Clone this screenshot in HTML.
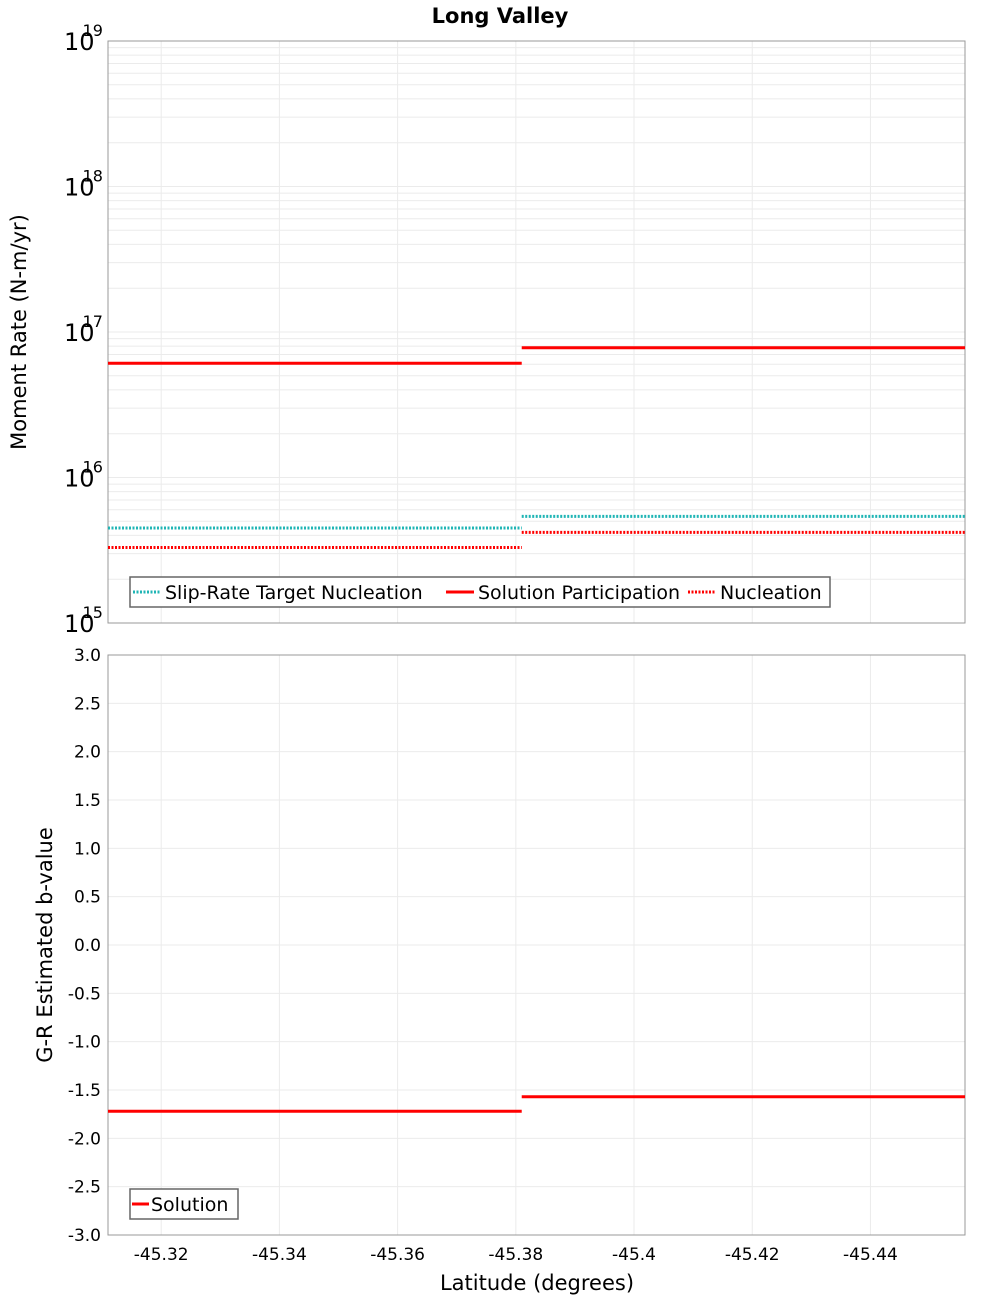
<!DOCTYPE html>
<html><head><meta charset="utf-8"><style>
body{margin:0;background:#fff}
svg{display:block;font-family:"DejaVu Sans","Liberation Sans",sans-serif}
</style></head><body>
<svg id="chart" width="1000" height="1300" xmlns="http://www.w3.org/2000/svg">
<text x="500" y="23" text-anchor="middle" font-size="21" font-weight="bold">Long Valley</text>
<g id="topPanel"></g><g id="botPanel"></g>
</svg>
<script>
const segBounds = [-45.311, -45.381, -45.456];
const solutionParticipation = [6.1e16, 7.8e16];
const slipRateTargetNucleation = [4.5e15, 5.4e15];
const nucleation = [3.3e15, 4.2e15];
const bValues = [-1.72, -1.57];
const xTicks = [-45.32, -45.34, -45.36, -45.38, -45.4, -45.42, -45.44];
const xTickLabels = ["-45.32","-45.34","-45.36","-45.38","-45.4","-45.42","-45.44"];
const yDecades = [15, 16, 17, 18, 19];
const bTicks = [3.0,2.5,2.0,1.5,1.0,0.5,0.0,-0.5,-1.0,-1.5,-2.0,-2.5,-3.0];

const NS="http://www.w3.org/2000/svg";
const L=108,R=965;
const xMin=-45.311,xMax=-45.456;
const X=v=>L+(v-xMin)/(xMax-xMin)*(R-L);
const T1=41,B1=623,T2=655,B2=1235;
const Y1=v=>B1-(Math.log10(v)-15)/4*(B1-T1);
const Y2=v=>B2-(v+3)/6*(B2-T2);
function mk(parent,tag,attrs,text){const e=document.createElementNS(NS,tag);for(const k in attrs)e.setAttribute(k,attrs[k]);if(text!==undefined)e.textContent=text;parent.appendChild(e);return e;}
const topG=document.getElementById('topPanel'),botG=document.getElementById('botPanel');

for(let d=15;d<19;d++)for(let m=1;m<10;m++){const y=Y1(m*Math.pow(10,d));const g=mk(topG,'line',{x1:L,x2:R,y1:y,y2:y,stroke:'#ebebeb','stroke-width':1});

}
xTicks.forEach(t=>{[[T1,B1,topG],[T2,B2,botG]].forEach(([a,b,p])=>{const g=mk(p,'line',{x1:X(t),x2:X(t),y1:a,y2:b,stroke:'#ebebeb','stroke-width':1});

});});
bTicks.forEach(t=>{const g=mk(botG,'line',{x1:L,x2:R,y1:Y2(t),y2:Y2(t),stroke:'#ebebeb','stroke-width':1});

});

let f=mk(topG,'rect',{x:L,y:T1,width:R-L,height:B1-T1,fill:'none',stroke:'#999','stroke-width':1});


f=mk(botG,'rect',{x:L,y:T2,width:R-L,height:B2-T2,fill:'none',stroke:'#999','stroke-width':1});



yDecades.forEach(d=>{const y=Y1(Math.pow(10,d));const t=mk(topG,'text',{x:64,y:y+9,'font-size':24,'text-anchor':'start'});


mk(t,'tspan',{},'10');mk(t,'tspan',{dx:-12,dy:-14,'font-size':16},String(d));});
bTicks.forEach(v=>{const t=mk(botG,'text',{x:101,y:Y2(v)+6,'font-size':17,'text-anchor':'end'},v.toFixed(1));

});
xTicks.forEach((v,i)=>{const t=mk(botG,'text',{x:X(v),y:1260,'font-size':17,'text-anchor':'middle'},xTickLabels[i]);

});

let t=mk(topG,'text',{transform:'translate(26,332) rotate(-90)','font-size':21,'text-anchor':'middle'},'Moment Rate (N-m/yr)');


t=mk(botG,'text',{transform:'translate(52,945) rotate(-90)','font-size':21,'text-anchor':'middle'},'G-R Estimated b-value');


t=mk(botG,'text',{x:537,y:1290,'font-size':21,'text-anchor':'middle'},'Latitude (degrees)');



function series(p,vals,Y,color,dash,name){vals.forEach((v,i)=>{const a={x1:X(segBounds[i]),x2:X(segBounds[i+1]),y1:Y(v),y2:Y(v),stroke:color,'stroke-width':3};if(dash)a['stroke-dasharray']='2,1.5';const l=mk(p,'line',a);

});}
series(topG,slipRateTargetNucleation,Y1,'#1fb5b5',true,'slip-rate-target-segment');
series(topG,nucleation,Y1,'#f00',true,'nucleation-segment');
series(topG,solutionParticipation,Y1,'#f00',false,'solution-participation-segment');
series(botG,bValues,Y2,'#f00',false,'b-value-segment');

let lg=mk(topG,'g',{});


mk(lg,'rect',{x:130,y:577,width:700,height:30,fill:'#fff',stroke:'#666','stroke-width':1.5});
const items=[[133,'#1fb5b5',true,'Slip-Rate Target Nucleation'],[446,'#f00',false,'Solution Participation'],[688,'#f00',true,'Nucleation']];
items.forEach(([x,c,d,s])=>{const a={x1:x,x2:x+28,y1:592,y2:592,stroke:c,'stroke-width':3};if(d)a['stroke-dasharray']='2,1.5';mk(lg,'line',a);mk(lg,'text',{x:x+32,y:599,'font-size':19},s);});
lg=mk(botG,'g',{});


mk(lg,'rect',{x:130,y:1189,width:108,height:30,fill:'#fff',stroke:'#666','stroke-width':1.5});
mk(lg,'line',{x1:132,x2:149,y1:1204,y2:1204,stroke:'#f00','stroke-width':3});
mk(lg,'text',{x:151,y:1211,'font-size':19},'Solution');
</script>
</body></html>
